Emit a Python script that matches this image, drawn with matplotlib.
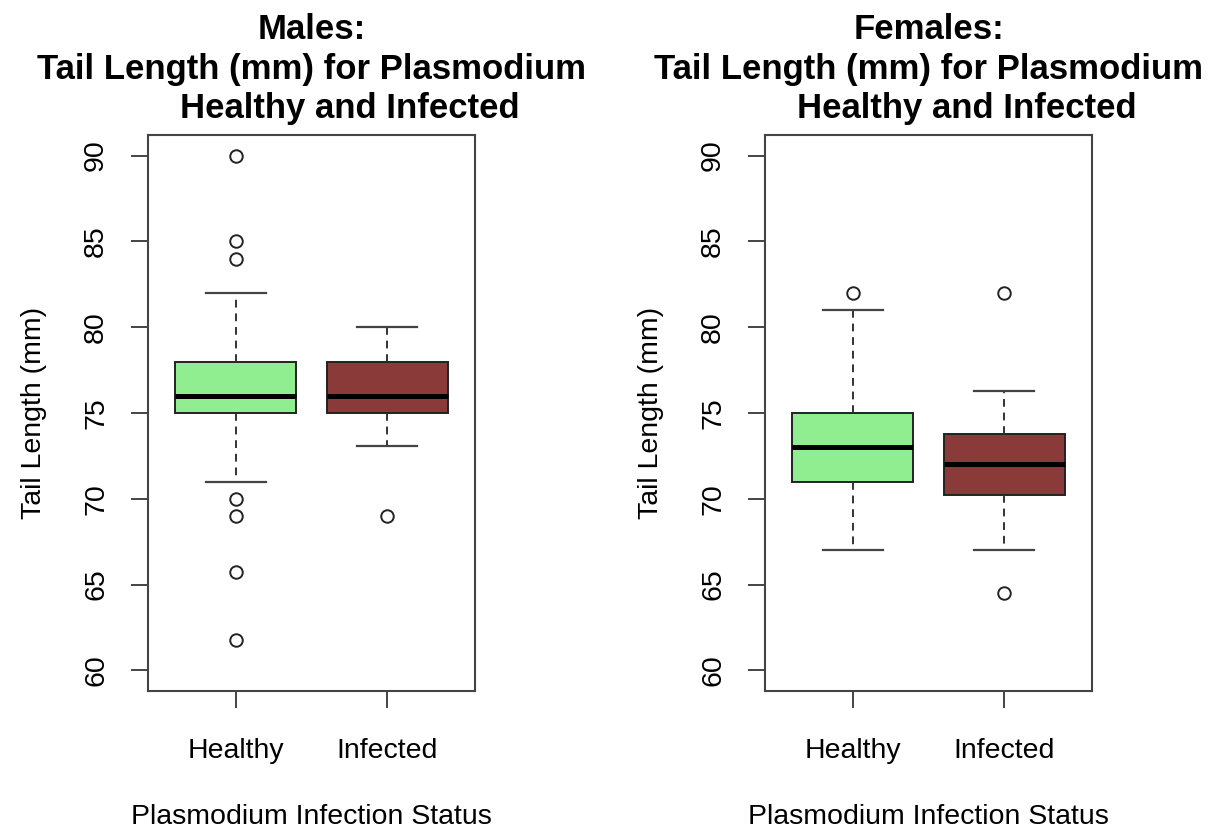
import matplotlib.pyplot as plt

plt.rcParams['font.family'] = ['Liberation Sans', 'DejaVu Sans']

# -----------------------------------------
# BOX STATISTICS (tail length, mm)
# -----------------------------------------
groups = ["Healthy", "Infected"]
colors = ["#90EE90", "#8B3A3A"]

male_whislo = [71, 73.1]
male_q1 = [75, 75]
male_med = [76, 76]
male_q3 = [78, 78]
male_whishi = [82, 80]
male_fliers = [[90, 85, 84, 70, 69, 65.75, 61.8], [69]]

female_whislo = [67, 67]
female_q1 = [71, 70.25]
female_med = [73, 72]
female_q3 = [75, 73.75]
female_whishi = [81, 76.3]
female_fliers = [[82], [82, 64.5]]

panels = [
    ("Males:", male_whislo, male_q1, male_med, male_q3, male_whishi, male_fliers),
    ("Females:", female_whislo, female_q1, female_med, female_q3, female_whishi, female_fliers),
]

fig = plt.figure(figsize=(12.15, 8.32), dpi=100)
lefts = [148 / 1215, 765 / 1215]
width = (475 - 148) / 1215
bottom = 1 - 691 / 832
height = (691 - 135) / 832

for left, (sex, lo, q1, med, q3, hi, fl) in zip(lefts, panels):
    ax = fig.add_axes([left, bottom, width, height])
    stats = []
    for i in range(len(groups)):
        stats.append(dict(whislo=lo[i], q1=q1[i], med=med[i], q3=q3[i],
                          whishi=hi[i], fliers=fl[i], label=groups[i]))
    bp = ax.bxp(stats, positions=[1, 2], widths=0.8, patch_artist=True,
                boxprops=dict(linewidth=1.4, edgecolor="#222222"),
                medianprops=dict(color="black", linewidth=3.6, solid_capstyle="butt"),
                whiskerprops=dict(color="#333333", linewidth=1.4, linestyle=(0, (4, 3))),
                capprops=dict(color="#444444", linewidth=1.6),
                flierprops=dict(marker="o", markersize=9, markerfacecolor="none",
                                markeredgecolor="#222222", markeredgewidth=1.4))
    for patch, c in zip(bp["boxes"], colors):
        patch.set_facecolor(c)

    ax.set_xlim(0.42, 2.58)
    ax.set_ylim(58.8, 91.2)
    ax.set_yticks([60, 65, 70, 75, 80, 85, 90])
    ax.set_xticks([1, 2])
    ax.set_xticklabels(groups)
    for s in ax.spines.values():
        s.set_color("#444444")
        s.set_linewidth(1.5)
    ax.tick_params(axis="both", length=12, width=1.4, color="#444444",
                   labelsize=20.5)
    ax.tick_params(axis="x", pad=22)
    ax.tick_params(axis="y", pad=16)
    for t in ax.get_yticklabels():
        t.set_rotation(90)
        t.set_va("center")

    ax.set_ylabel("Tail Length (mm)", fontsize=20.5, labelpad=26)
    ax.set_xlabel("Plasmodium Infection Status", fontsize=20.5, labelpad=29)
    ax.set_title(sex + "\nTail Length (mm) for Plasmodium\n        Healthy and Infected",
                 fontsize=25, fontweight="bold", pad=12, linespacing=1.25)

plt.savefig("out.png", dpi=100)
